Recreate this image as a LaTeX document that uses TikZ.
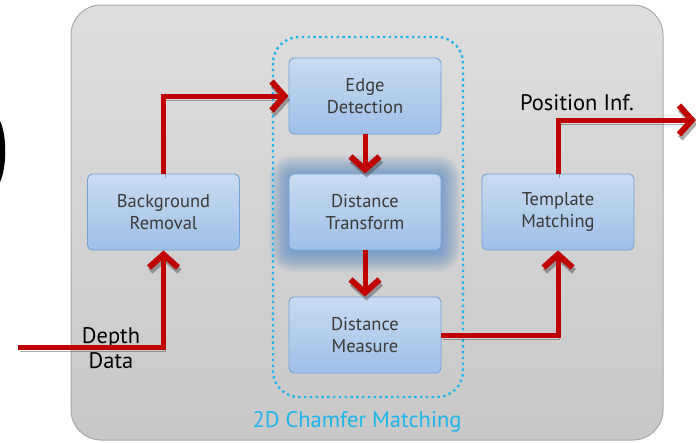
\documentclass[tikz,border=0pt]{standalone}
\usepackage{fontspec}
\setmainfont{PT Sans}
\usetikzlibrary{arrows.meta}
\definecolor{panelTop}{HTML}{DEDEDE}
\definecolor{panelBot}{HTML}{C8C8C8}
\definecolor{panelLine}{HTML}{A8A8A8}
\definecolor{boxTop}{HTML}{C9DCF2}
\definecolor{boxBot}{HTML}{9DBFE7}
\definecolor{boxLine}{HTML}{74A3D8}
\definecolor{boxText}{HTML}{3A3A3A}
\definecolor{flowRed}{HTML}{C00000}
\definecolor{glowBlue}{HTML}{4A82C8}
\definecolor{groupCyan}{HTML}{1EB4EC}
\begin{document}
\begin{tikzpicture}[x=1pt,y=-1pt,
  stagebox/.style={draw=boxLine, line width=0.9pt, rounded corners=5pt,
    top color=boxTop, bottom color=boxBot, minimum width=152pt,
    minimum height=76pt, inner sep=0pt, align=center, text=boxText,
    font=\fontsize{18.5}{22.5}\selectfont},
  flow/.style={draw=flowRed, line width=5pt,
    -{Straight Barb[length=13pt,width=29pt,line width=6pt]},
    preaction={draw=black!80, draw opacity=0.4,
      transform canvas={shift={(1.5pt,-4pt)}}}},
  biglabel/.style={font=\fontsize{22.5}{26}\selectfont, text=black, anchor=base}
  ]
\useasboundingbox (0,0) rectangle (696,442);

% grey panel
\draw[panelLine, line width=1pt, rounded corners=30pt,
  top color=panelTop, bottom color=panelBot] (71,5) rectangle (663,440);

% black crescent at the left margin
\fill[black] (0,121) .. controls (7,135) and (7,167) .. (0,182) -- cycle;

% soft glow around the distance transform stage, slightly heavier below
\foreach \e in {20,19,...,1}
  \fill[glowBlue, fill opacity=0.04, rounded corners=\e pt+4pt]
    (289-\e,174-\e+1) rectangle (441+\e,250+\e+2);

% chamfer matching group
\draw[groupCyan, line width=2.4pt, dash pattern=on 2.4pt off 3.4pt,
  rounded corners=26pt] (273,37) rectangle (463,397);
\node[text=groupCyan, font=\fontsize{22.5}{26}\selectfont, anchor=base]
  (grp) at (357,427) {2D Chamfer Matching};

% stages
\node[stagebox] (BR) at (163.5,212) {Background\\Removal};
\node[stagebox] (ED) at (365,96) {Edge\\Detection};
\node[stagebox] (DT) at (365,212) {Distance\\Transform};
\node[stagebox] (DM) at (365,335) {Distance\\Measure};
\node[stagebox] (TM) at (558,212) {Template\\Matching};

% input / output labels
\node[biglabel] (din) at (111,343) {Depth};
\node[biglabel] (din2) at (111,368) {Data};
\node[biglabel] (pout) at (577,110) {Position Inf.};

\coordinate (src) at (18,347);
\coordinate (dst) at (696,120);

% data flow
\draw[flow] (src) -| (BR.south);
\draw[flow] (BR.north) |- (ED.west);
\draw[flow] (ED.south) -- (DT.north);
\draw[flow] (DT.south) -- (DM.north);
\draw[flow] (DM.east) -| (TM.south);
\draw[flow] (TM.north) |- (dst);
\end{tikzpicture}
\end{document}
